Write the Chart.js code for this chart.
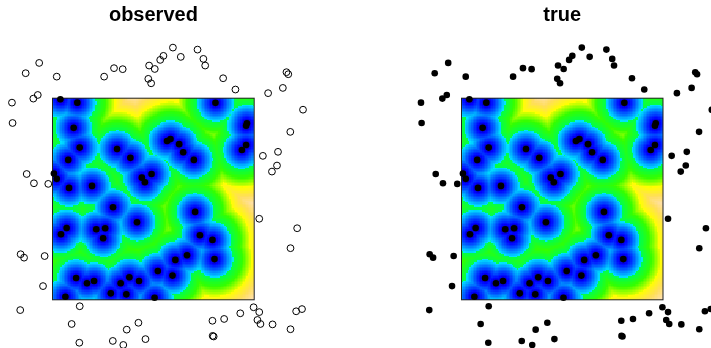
<!DOCTYPE html>
<html>
<head>
<meta charset="utf-8">
<script src="https://cdn.jsdelivr.net/npm/chart.js@4"></script>
<style>
  html,body{margin:0;padding:0;background:#fff;}
  #wrap{position:relative;width:711px;height:348px;overflow:hidden;background:#fff;}
  canvas{position:absolute;top:0;}
</style>
</head>
<body>
<div id="wrap">
  <canvas id="obs" width="356" height="348" style="left:0"></canvas>
  <canvas id="tru" width="355" height="348" style="left:356px"></canvas>
</div>
<script>
// window is the unit square
const panelTitles = ['observed', 'true'];

const insideX = [0.039,0.123,0.105,0.135,0.320,0.386,0.078,0.007,0.021,0.082,0.196,0.443,0.458,0.491,
  0.808,0.964,0.960,0.960,0.939,0.568,0.585,0.628,0.648,0.701,
  0.300,0.419,0.070,0.042,0.217,0.261,0.251,0.117,0.171,0.206,0.381,0.338,0.429,0.289,0.366,0.064,0.506,
  0.707,0.731,0.793,0.803,0.667,0.609,0.522,0.595];
const insideY = [0.995,0.978,0.853,0.755,0.748,0.704,0.694,0.626,0.600,0.555,0.565,0.606,0.583,0.624,
  0.977,0.876,0.863,0.768,0.743,0.788,0.797,0.772,0.732,0.694,
  0.459,0.385,0.356,0.325,0.350,0.355,0.305,0.108,0.082,0.093,0.112,0.082,0.093,0.032,0.027,0.015,0.010,
  0.436,0.320,0.297,0.202,0.221,0.198,0.143,0.120];

const outsideX = [-0.066,-0.133,0.021,0.256,0.305,0.348,0.479,0.475,0.489,-0.073,-0.095,-0.201,-0.198,
  -0.128,-0.092,-0.021,0.597,0.550,0.534,0.507,0.636,0.719,0.748,0.757,0.846,0.907,1.069,1.142,1.160,1.169,
  1.242,1.179,1.118,1.043,1.113,1.088,-0.158,-0.141,-0.039,-0.047,-0.160,0.135,0.095,0.133,0.299,0.351,
  0.368,0.426,0.461,1.025,1.213,1.180,0.997,1.025,0.793,0.851,0.931,1.016,1.031,1.091,1.208,1.237,1.180,
  0.794,0.799];
const outsideY = [1.175,1.124,1.107,1.107,1.149,1.144,1.162,1.096,1.074,1.016,0.998,0.978,0.877,
  0.624,0.578,0.575,1.251,1.210,1.190,1.145,1.205,1.241,1.195,1.162,1.099,1.043,1.025,1.051,1.129,1.119,
  0.943,0.833,0.734,0.714,0.666,0.636,0.226,0.209,0.217,0.068,-0.051,-0.032,-0.120,-0.213,-0.204,-0.224,
  -0.148,-0.114,-0.195,0.402,0.355,0.256,-0.037,-0.061,-0.104,-0.095,-0.067,-0.100,-0.120,-0.122,-0.057,-0.046,-0.146,
  -0.179,-0.182];

// topo-like colour ramp for the distance image
const ramp = [
  [0.000, [0,0,110]], [0.090, [0,0,255]], [0.200, [0,98,255]], [0.270, [0,170,255]],
  [0.333, [0,229,255]], [0.334, [0,255,77]], [0.500, [51,255,0]], [0.666, [230,255,0]],
  [0.667, [255,255,0]], [0.833, [255,222,89]], [1.000, [255,224,179]]
];
function rampColor(t){
  for(let i=1;i<ramp.length;i++){
    if(t <= ramp[i][0]){
      const a = ramp[i-1], b = ramp[i];
      const f = (t - a[0]) / (b[0] - a[0]);
      return a[1].map((c,k)=> Math.round(c + (b[1][k]-c)*f));
    }
  }
  return ramp[ramp.length-1][1];
}

// distance map of the inside points on a 128x128 grid
function distImage(n){
  const d = new Float32Array(n*n);
  let dmax = 0;
  for(let j=0;j<n;j++){
    const y = 1 - (j+0.5)/n;
    for(let i=0;i<n;i++){
      const x = (i+0.5)/n;
      let m = Infinity;
      for(let k=0;k<insideX.length;k++){
        const dx = x-insideX[k], dy = y-insideY[k];
        const q = dx*dx+dy*dy;
        if(q<m) m=q;
      }
      m = Math.sqrt(m);
      d[j*n+i] = m;
      if(m>dmax) dmax=m;
    }
  }
  const cv = document.createElement('canvas');
  cv.width = n; cv.height = n;
  const c = cv.getContext('2d');
  const im = c.createImageData(n,n);
  for(let p=0;p<n*n;p++){
    const col = rampColor(d[p]/dmax);
    im.data[p*4]=col[0]; im.data[p*4+1]=col[1]; im.data[p*4+2]=col[2]; im.data[p*4+3]=255;
  }
  c.putImageData(im,0,0);
  return cv;
}
const heat = distImage(128);

const heatPlugin = {
  id: 'heat',
  beforeDatasetsDraw(chart){
    const {ctx, scales:{x, y}} = chart;
    const x0 = x.getPixelForValue(0), x1 = x.getPixelForValue(1);
    const y0 = y.getPixelForValue(1), y1 = y.getPixelForValue(0);
    ctx.save();
    ctx.imageSmoothingEnabled = false;
    ctx.drawImage(heat, x0, y0, x1-x0, y1-y0);
    ctx.strokeStyle = '#222';
    ctx.lineWidth = 1;
    ctx.strokeRect(x0, y0, x1-x0, y1-y0);
    ctx.restore();
  }
};

function toPts(xs, ys){ return xs.map((v,i)=>({x:v, y:ys[i]})); }

// pixel geometry of the window inside each canvas
const H = 348, winTop = 98.2, winBot = 299.8;
const titleSize = 20, titlePadTop = 3;
const titleH = titleSize*1.2 + titlePadTop;

function makePanel(id, title, W, winL, winR, padL, padR, openOutside){
  const sx = winR - winL, sy = winBot - winTop;
  const xmin = -(winL - padL)/sx, xmax = (W - padR - winL)/sx;
  const ymax = 1 + (winTop - titleH)/sy, ymin = -(H - winBot)/sy;
  return new Chart(document.getElementById(id), {
    type: 'scatter',
    data: {
      datasets: [
        { data: toPts(insideX, insideY), pointRadius: 3.3, pointBackgroundColor: '#000',
          pointBorderWidth: 0, clip: false },
        { data: toPts(outsideX, outsideY), pointRadius: openOutside ? 3.4 : 3.3,
          pointBackgroundColor: openOutside ? 'rgba(0,0,0,0)' : '#000',
          pointBorderColor: '#000', pointBorderWidth: openOutside ? 1 : 0, clip: false }
      ]
    },
    options: {
      responsive: false,
      animation: false,
      devicePixelRatio: 1,
      layout: { autoPadding: false, padding: { left: padL, right: padR, top: 0, bottom: 0 } },
      scales: {
        x: { type: 'linear', min: xmin, max: xmax, display: false },
        y: { type: 'linear', min: ymin, max: ymax, display: false }
      },
      plugins: {
        legend: { display: false },
        tooltip: { enabled: false },
        title: {
          display: true, text: title, color: '#000',
          font: { family: 'Liberation Sans, Arial, sans-serif', size: titleSize, weight: 'bold' },
          padding: { top: titlePadTop, bottom: 0 }
        }
      }
    },
    plugins: [heatPlugin]
  });
}

makePanel('obs', panelTitles[0], 356, 52.5, 254.2, 0, 49.2, true);
makePanel('tru', panelTitles[1], 355, 105.5, 307.0, 57.5, 0, false);
</script>
</body>
</html>
